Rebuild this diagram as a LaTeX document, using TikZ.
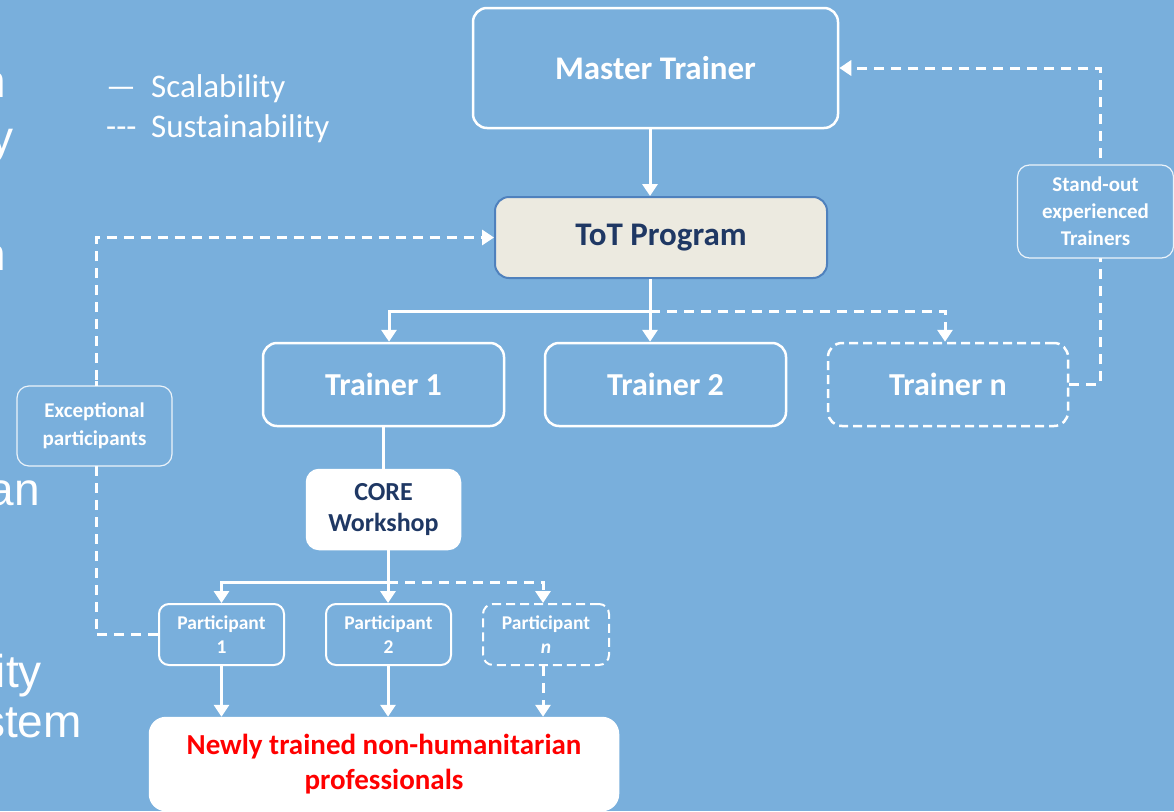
\documentclass[tikz,border=0pt]{standalone}
\usepackage{fontspec}
\setmainfont{Carlito}
\newfontfamily\arialf{Liberation Sans}
\usetikzlibrary{arrows.meta}
\definecolor{bg}{RGB}{121,175,220}
\definecolor{navy}{RGB}{31,56,100}
\definecolor{beige}{RGB}{236,234,224}
\definecolor{totborder}{RGB}{79,129,189}
\definecolor{txtred}{RGB}{255,0,0}
\begin{document}
\begin{tikzpicture}[x=1pt,y=-1pt,
  box/.style={draw=white, line width=2.5pt, rounded corners=14pt, fill=bg, text=white,
    align=center, inner sep=0pt},
  smallbox/.style={box, line width=2pt, rounded corners=10pt},
  labelbox/.style={draw=white, draw opacity=0.85, line width=1.2pt, rounded corners=12pt, fill=bg,
    text=white, align=center, inner sep=0pt},
  conn/.style={draw=white, line width=3pt},
  arr/.style={conn, -{Triangle[width=15pt,length=12pt]}},
  dsh/.style={dash pattern=on 10pt off 7pt},
  boxdsh/.style={dash pattern=on 9pt off 5pt},
  frag/.style={anchor=base east, inner sep=0pt, text=white, font=\arialf\fontsize{46}{50}\selectfont},
  legend/.style={anchor=base west, inner sep=0pt, text=white, font=\fontsize{33}{38}\selectfont}
]
\useasboundingbox (0,0) rectangle (1174,811);
\fill[bg] (0,0) rectangle (1174,811);
\clip (0,0) rectangle (1174,811);

% left fragments of slide text
\node[frag] (f1) at (6,97) {n};
\node[frag] (f2) at (14,153) {y};
\node[frag] (f3) at (6,270) {n};
\node[frag] (f4) at (40,505) {an};
\node[frag] (f5) at (42,687) {ity};
\node[frag] (f6) at (82,737) {stem};

% legend
\node[legend] (lg1) at (106,97) {\makebox[45pt][l]{—}Scalability};
\node[legend] (lg2) at (106,137) {\makebox[45pt][l]{-{}-{}-}Sustainability};

% coordinates for connector columns
\coordinate (x96) at (96,0);
\coordinate (x389) at (389,0);
\coordinate (x543) at (543,0);
\coordinate (x650) at (650,0);
\coordinate (x945) at (945,0);
\coordinate (x1100) at (1100,0);
\coordinate (c1) at (650,311);
\coordinate (c2) at (388,582);

% nodes
\node[box, minimum width=365pt, minimum height=120pt, font=\bfseries\fontsize{33}{38}\selectfont]
  (master) at (655.5,68) {Master Trainer};
\node[box, fill=beige, draw=totborder, line width=2pt, text=navy, minimum width=332pt, minimum height=81pt,
  font=\bfseries\fontsize{33}{38}\selectfont] (tot) at (661,237.5) {ToT Program};
\node[box, minimum width=241pt, minimum height=83pt, font=\bfseries\fontsize{32}{36}\selectfont]
  (t1) at (383.5,384.5) {Trainer 1};
\node[box, minimum width=241pt, minimum height=83pt, font=\bfseries\fontsize{32}{36}\selectfont]
  (t2) at (665.5,384.5) {Trainer 2};
\node[box, boxdsh, minimum width=240pt, minimum height=83pt, font=\bfseries\fontsize{32}{36}\selectfont]
  (tn) at (948,384.5) {Trainer n};
\node[box, fill=white, text=navy, minimum width=153pt, minimum height=79pt, rounded corners=12pt,
  font=\bfseries\fontsize{26}{31}\selectfont] (core) at (383.5,509.5) {CORE\\Workshop};
\node[smallbox, minimum width=125pt, minimum height=61pt, font=\bfseries\fontsize{19.5}{24}\selectfont]
  (p1) at (221.5,634.5) {Participant\\1};
\node[smallbox, minimum width=125pt, minimum height=61pt, font=\bfseries\fontsize{19.5}{24}\selectfont]
  (p2) at (388.5,634.5) {Participant\\2};
\node[smallbox, boxdsh, minimum width=126pt, minimum height=61pt, font=\bfseries\fontsize{19.5}{24}\selectfont]
  (pn) at (546,634.5) {Participant\\\textit{n}};
\node[box, fill=white, text=txtred, minimum width=468pt, minimum height=92pt, rounded corners=16pt,
  font=\bfseries\fontsize{29}{35}\selectfont] (newly) at (384,764) {Newly trained non-humanitarian\\professionals};

% connectors
\draw[arr] (master.south -| x650) -- (tot.north -| x650);
\draw[conn] (tot.south -| c1) -- (c1);
\draw[arr] (c1) -| (t1.north -| x389);
\draw[arr] (c1) -- (t2.north -| c1);
\draw[arr, dsh] (c1) -| (tn.north -| x945);
\draw[conn] (t1.south) -- (core.north);
\draw[conn] (core.south -| c2) -- (c2);
\draw[arr] (c2) -| (p1.north);
\draw[arr] (c2) -- (p2.north -| c2);
\draw[arr, dsh] (c2) -| (pn.north -| x543);
\draw[arr] (p1.south) -- (newly.north -| p1.south);
\draw[arr] (p2.south -| c2) -- (newly.north -| c2);
\draw[arr, dsh] (pn.south -| x543) -- (newly.north -| x543);

% sustainability loops
\draw[conn, dsh] (p1.west) -| (x96 |- 0,380);
\draw[arr, dsh] (x96 |- 0,380) |- (tot.west);
\draw[conn, dsh] (tn.east) -| (x1100 |- 0,260);
\draw[arr, dsh] (x1100 |- 0,260) |- (master.east);

% label boxes on the loops
\node[labelbox, minimum width=155pt, minimum height=80pt, font=\bfseries\fontsize{21}{28}\selectfont]
  (exc) at (94.5,426) {Exceptional\\participants};
\node[labelbox, minimum width=156pt, minimum height=93pt, font=\bfseries\fontsize{21}{27}\selectfont]
  (stand) at (1095.5,211.5) {Stand-out\\experienced\\Trainers};
\end{tikzpicture}
\end{document}
